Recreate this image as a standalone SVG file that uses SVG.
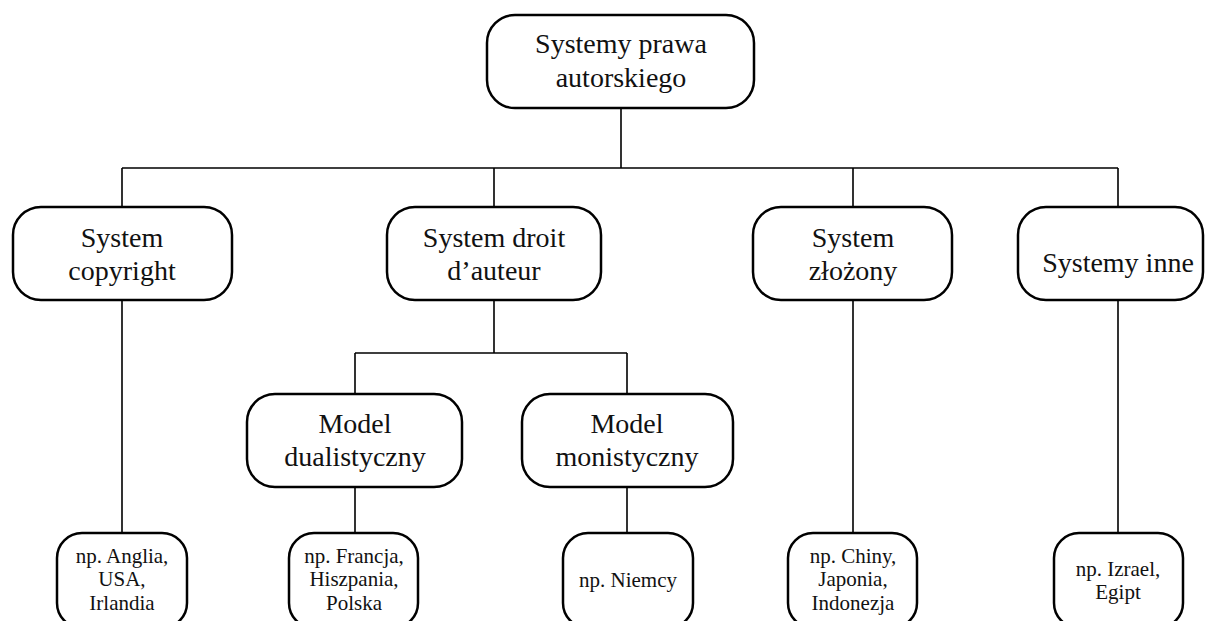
<svg xmlns="http://www.w3.org/2000/svg" width="1208" height="621" viewBox="0 0 1208 621">
<style>
.box{fill:#fff;stroke:#000;stroke-width:2.5}
.t{font-family:"Liberation Serif","Times New Roman",serif;font-size:28px;text-anchor:middle;fill:#111}
.s{font-family:"Liberation Serif","Times New Roman",serif;font-size:21px;text-anchor:middle;fill:#111}
.c{stroke:#000;stroke-width:1.6;fill:none}
</style>
<rect width="1208" height="621" fill="#fff"/>
<g id="connectors">
<path class="c" d="M621,108V168M122,168H1118M122,168V207M494,168V207M853,168V207M1118,168V207"/>
<path class="c" d="M122,300V533M494,300V353M355,353H627M355,353V394M627,353V394M355,487V533M627,487V533M853,300V533M1118,300V533"/>
</g>
<g id="root"><rect class="box" x="487" y="15" width="267" height="93" rx="28"/><text class="t" x="621" y="53">Systemy prawa</text><text class="t" x="621" y="87">autorskiego</text></g>
<g id="copyright"><rect class="box" x="13" y="207" width="219" height="93" rx="28"/><text class="t" x="122" y="247">System</text><text class="t" x="122" y="280">copyright</text></g>
<g id="droit"><rect class="box" x="387" y="207" width="214" height="93" rx="28"/><text class="t" x="494" y="247">System droit</text><text class="t" x="494" y="280">d’auteur</text></g>
<g id="zlozony"><rect class="box" x="753" y="207" width="199" height="93" rx="28"/><text class="t" x="853" y="247">System</text><text class="t" x="853" y="280">złożony</text></g>
<g id="inne"><rect class="box" x="1018" y="207" width="185" height="93" rx="28"/><text class="t" x="1118" y="272">Systemy inne</text></g>
<g id="dualistyczny"><rect class="box" x="247" y="394" width="215" height="93" rx="28"/><text class="t" x="355" y="433">Model</text><text class="t" x="355" y="466">dualistyczny</text></g>
<g id="monistyczny"><rect class="box" x="522" y="394" width="211" height="93" rx="28"/><text class="t" x="627" y="433">Model</text><text class="t" x="627" y="466">monistyczny</text></g>
<g id="anglia"><rect class="box" x="57" y="533" width="130" height="95" rx="25"/><text class="s" x="122" y="563">np. Anglia,</text><text class="s" x="122" y="586">USA,</text><text class="s" x="122" y="610">Irlandia</text></g>
<g id="francja"><rect class="box" x="289" y="533" width="129" height="95" rx="25"/><text class="s" x="354" y="563">np. Francja,</text><text class="s" x="354" y="586">Hiszpania,</text><text class="s" x="354" y="610">Polska</text></g>
<g id="niemcy"><rect class="box" x="563" y="533" width="130" height="95" rx="25"/><text class="s" x="628" y="587">np. Niemcy</text></g>
<g id="chiny"><rect class="box" x="788" y="533" width="129" height="95" rx="25"/><text class="s" x="853" y="563">np. Chiny,</text><text class="s" x="853" y="586">Japonia,</text><text class="s" x="853" y="610">Indonezja</text></g>
<g id="izrael"><rect class="box" x="1054" y="533" width="129" height="95" rx="25"/><text class="s" x="1118" y="576">np. Izrael,</text><text class="s" x="1118" y="599">Egipt</text></g>
</svg>
